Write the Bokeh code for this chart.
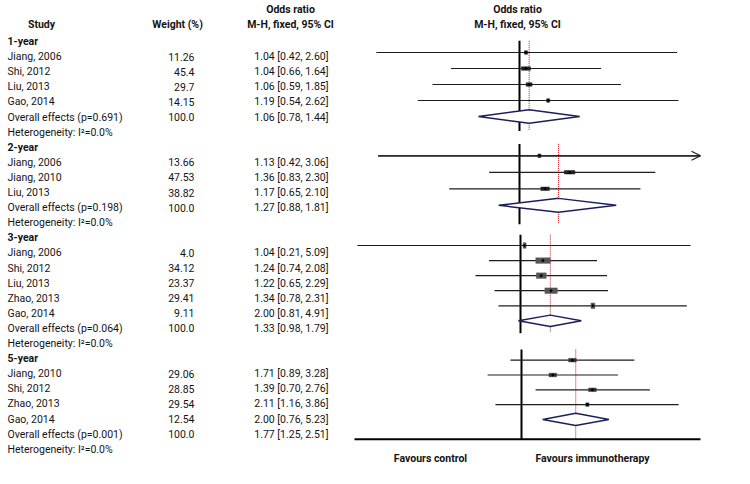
import numpy as np
from bokeh.plotting import figure
from bokeh.models import Range1d, LogScale, ColumnDataSource, Arrow, OpenHead
from bokeh.core.properties import value
from bokeh.embed import file_html
from bokeh.resources import INLINE

# ---------------- data ----------------
groups = ["1-year", "2-year", "3-year", "5-year"]

studies_1y = ["Jiang, 2006", "Shi, 2012", "Liu, 2013", "Gao, 2014"]
weight_1y = [11.26, 45.4, 29.7, 14.15]
or_1y = [1.04, 1.04, 1.06, 1.19]
lo_1y = [0.42, 0.66, 0.59, 0.54]
hi_1y = [2.60, 1.64, 1.85, 2.62]

studies_2y = ["Jiang, 2006", "Jiang, 2010", "Liu, 2013"]
weight_2y = [13.66, 47.53, 38.82]
or_2y = [1.13, 1.36, 1.17]
lo_2y = [0.42, 0.83, 0.65]
hi_2y = [3.06, 2.30, 2.10]

studies_3y = ["Jiang, 2006", "Shi, 2012", "Liu, 2013", "Zhao, 2013", "Gao, 2014"]
weight_3y = [4.0, 34.12, 23.37, 29.41, 9.11]
or_3y = [1.04, 1.24, 1.22, 1.34, 2.00]
lo_3y = [0.21, 0.74, 0.65, 0.78, 0.81]
hi_3y = [5.09, 2.08, 2.29, 2.31, 4.91]

studies_5y = ["Jiang, 2010", "Shi, 2012", "Zhao, 2013", "Gao, 2014"]
weight_5y = [29.06, 28.85, 29.54, 12.54]
or_5y = [1.71, 1.39, 2.11, 2.00]
lo_5y = [0.89, 0.70, 1.16, 0.76]
hi_5y = [3.28, 2.76, 3.86, 5.23]

overall_or = [1.06, 1.27, 1.33, 1.77]
overall_lo = [0.78, 0.88, 0.98, 1.25]
overall_hi = [1.44, 1.81, 1.79, 2.51]
overall_p = ["0.691", "0.198", "0.064", "0.001"]
overall_weight = [100.0, 100.0, 100.0, 100.0]
heterogeneity = ["0.0%", "0.0%", "0.0%", "0.0%"]

col_headers = ["Study", "Weight (%)", "Odds ratio", "M-H, fixed, 95% CI"]
favours = ["Favours control", "Favours immunotherapy"]

panels = [
    (studies_1y, weight_1y, or_1y, lo_1y, hi_1y),
    (studies_2y, weight_2y, or_2y, lo_2y, hi_2y),
    (studies_3y, weight_3y, or_3y, lo_3y, hi_3y),
    (studies_5y, weight_5y, or_5y, lo_5y, hi_5y),
]

# ---------------- layout / style ----------------
W, H = 734, 468
FONT = value("Roboto, 'Liberation Sans', sans-serif")
FS = "10.5px"
TXT = "#141414"
ROW0, ROWH = 49.0, 15.1
X_LABEL, X_WEIGHT, X_OR = 15, 202, 336
X_STUDY_H, X_WEIGHT_H, X_OR_H, X_FOREST_H = 49, 185, 298, 525

# per-panel geometry: null-line pixel x, px per ln unit, first row pixel y, row spacing,
# null-line extent (rows), diamond half height (rows), box px per weight, box height
PANEL_GEOM = [
    dict(x0=527, s=165, y0=60.0, dy=16.0, top=-0.73, bot=4.9, dh=0.42, bw=0.20, bh=3.5, box="#222222"),
    dict(x0=527, s=163, y0=163.3, dy=16.5, top=-0.72, bot=4.15, dh=0.42, bw=0.22, bh=3.5, box="#222222"),
    dict(x0=528, s=104.5, y0=253.0, dy=15.07, top=-0.72, bot=5.82, dh=0.38, bw=0.42, bh=5.5, box="#555555"),
    dict(x0=529, s=95, y0=367.7, dy=14.8, top=-0.72, bot=5.36, dh=0.41, bw=0.26, bh=3.5, box="#333333"),
]
X_RIGHT_END = 708
AXIS_Y, AXIS_X0 = 446.7, 362

p = figure(width=W, height=H, output_backend="svg", toolbar_location=None,
           x_range=Range1d(8, 8 + W), y_range=Range1d(8 + H, 8),
           min_border=0, outline_line_color=None)
p.axis.visible = False
p.grid.visible = False
p.background_fill_color = "white"
p.border_fill_color = "white"

# ---------------- left table ----------------
rows_text, rows_weight, rows_or, rows_bold, rows_y = [], [], [], [], []
idx = 0
for g, (st, wt, o, lo, hi) in enumerate(panels):
    rows_text.append(groups[g]); rows_weight.append(""); rows_or.append(""); rows_bold.append("bold")
    rows_y.append(ROW0 + idx * ROWH); idx += 1
    for i in range(len(st)):
        rows_text.append(st[i]); rows_weight.append(str(wt[i]))
        rows_or.append(f"{o[i]:.2f} [{lo[i]:.2f}, {hi[i]:.2f}]"); rows_bold.append("normal")
        rows_y.append(ROW0 + idx * ROWH); idx += 1
    rows_text.append(f"Overall effects (p={overall_p[g]})"); rows_weight.append(str(overall_weight[g]))
    rows_or.append(f"{overall_or[g]:.2f} [{overall_lo[g]:.2f}, {overall_hi[g]:.2f}]"); rows_bold.append("normal")
    rows_y.append(ROW0 + idx * ROWH); idx += 1
    rows_text.append(f"Heterogeneity: I\u00b2={heterogeneity[g]}"); rows_weight.append(""); rows_or.append("")
    rows_bold.append("normal"); rows_y.append(ROW0 + idx * ROWH); idx += 1

tsrc = ColumnDataSource(dict(y=rows_y, label=rows_text, w=rows_weight, orr=rows_or, fw=rows_bold,
                             xl=[X_LABEL] * len(rows_y), xw=[X_WEIGHT] * len(rows_y), xo=[X_OR] * len(rows_y)))
common = dict(text_font=FONT, text_font_size=FS, text_color=TXT, text_baseline="middle")
p.text(x="xl", y="y", text="label", text_font_style="fw", text_align="left", source=tsrc, **common)
p.text(x="xw", y="y", text="w", text_align="right", source=tsrc, **common)
p.text(x="xo", y="y", text="orr", text_align="right", source=tsrc, **common)

hdr = dict(text_font=FONT, text_font_size=FS, text_color=TXT, text_baseline="middle",
           text_font_style="bold", text_align="center")
p.text(x=[X_STUDY_H, X_WEIGHT_H, X_OR_H, X_OR_H, X_FOREST_H, X_FOREST_H],
       y=[32, 32, 17, 32, 17, 32],
       text=[col_headers[0], col_headers[1], col_headers[2], col_headers[3], col_headers[2], col_headers[3]],
       **hdr)

# ---------------- forest panels ----------------
for g, (st, wt, o, lo, hi) in enumerate(panels):
    G = PANEL_GEOM[g]
    name = f"p{g}"
    # ranges so that OR=1 sits at pixel x0 and row k sits at y0 + k*dy
    left = np.exp(-(G["x0"] - 8) / G["s"])
    right = np.exp((W - (G["x0"] - 8)) / G["s"])
    p.extra_x_ranges[name] = Range1d(left, right)
    p.extra_x_scales[name] = LogScale()
    ktop = -(G["y0"] - 8) / G["dy"]
    kbot = (H - (G["y0"] - 8)) / G["dy"]
    p.extra_y_ranges[name] = Range1d(kbot, ktop)
    clip = np.exp((X_RIGHT_END - G["x0"]) / G["s"])

    n = len(st)
    k = list(range(n))
    hi_draw = [min(h, clip) for h in hi]
    src = ColumnDataSource(dict(k=k, o=o, lo=lo, hi=hi_draw,
                                bw=[max(w * G["bw"], 3.0) for w in wt]))
    # null line
    p.segment(x0=[1], x1=[1], y0=[G["top"]], y1=[G["bot"]], line_color="black", line_width=2,
              x_range_name=name, y_range_name=name)
    # overall effect dotted red line
    p.segment(x0=[overall_or[g]], x1=[overall_or[g]], y0=[G["top"]], y1=[G["bot"] - 0.05],
              line_color="#d0101a", line_width=1, line_dash="1 1",
              x_range_name=name, y_range_name=name)
    # CI lines
    p.segment(x0="lo", x1="hi", y0="k", y1="k", line_color="#1e1e1e", line_width=1.2, source=src,
              x_range_name=name, y_range_name=name)
    # arrows for clipped CIs
    for i in range(n):
        if hi[i] > clip:
            p.add_layout(Arrow(end=OpenHead(size=9, line_width=1.2, line_color="#1e1e1e"),
                               x_start=lo[i], y_start=i, x_end=clip, y_end=i,
                               line_color="#1e1e1e", line_width=1.2,
                               x_range_name=name, y_range_name=name))
    # weight boxes
    p.rect(x="o", y="k", width="bw", height=G["bh"], width_units="screen", height_units="screen",
           fill_color=G["box"], line_color=G["box"], line_width=0.5, source=src,
           x_range_name=name, y_range_name=name)
    p.scatter(x="o", y="k", size=2, marker="circle", fill_color="black", line_color="black",
              source=src, x_range_name=name, y_range_name=name)
    # diamond
    kd = n
    p.patch(x=[overall_lo[g], overall_or[g], overall_hi[g], overall_or[g]],
            y=[kd, kd - G["dh"], kd, kd + G["dh"]],
            fill_color="white", line_color="#1c1f5c", line_width=1.5,
            x_range_name=name, y_range_name=name)

# bottom axis line and favours labels
p.segment(x0=[AXIS_X0], x1=[X_RIGHT_END], y0=[AXIS_Y], y1=[AXIS_Y], line_color="black", line_width=2)
p.text(x=[438, 600], y=[466, 466], text=favours, **hdr)

open("out.html", "w").write(file_html(p, INLINE))
